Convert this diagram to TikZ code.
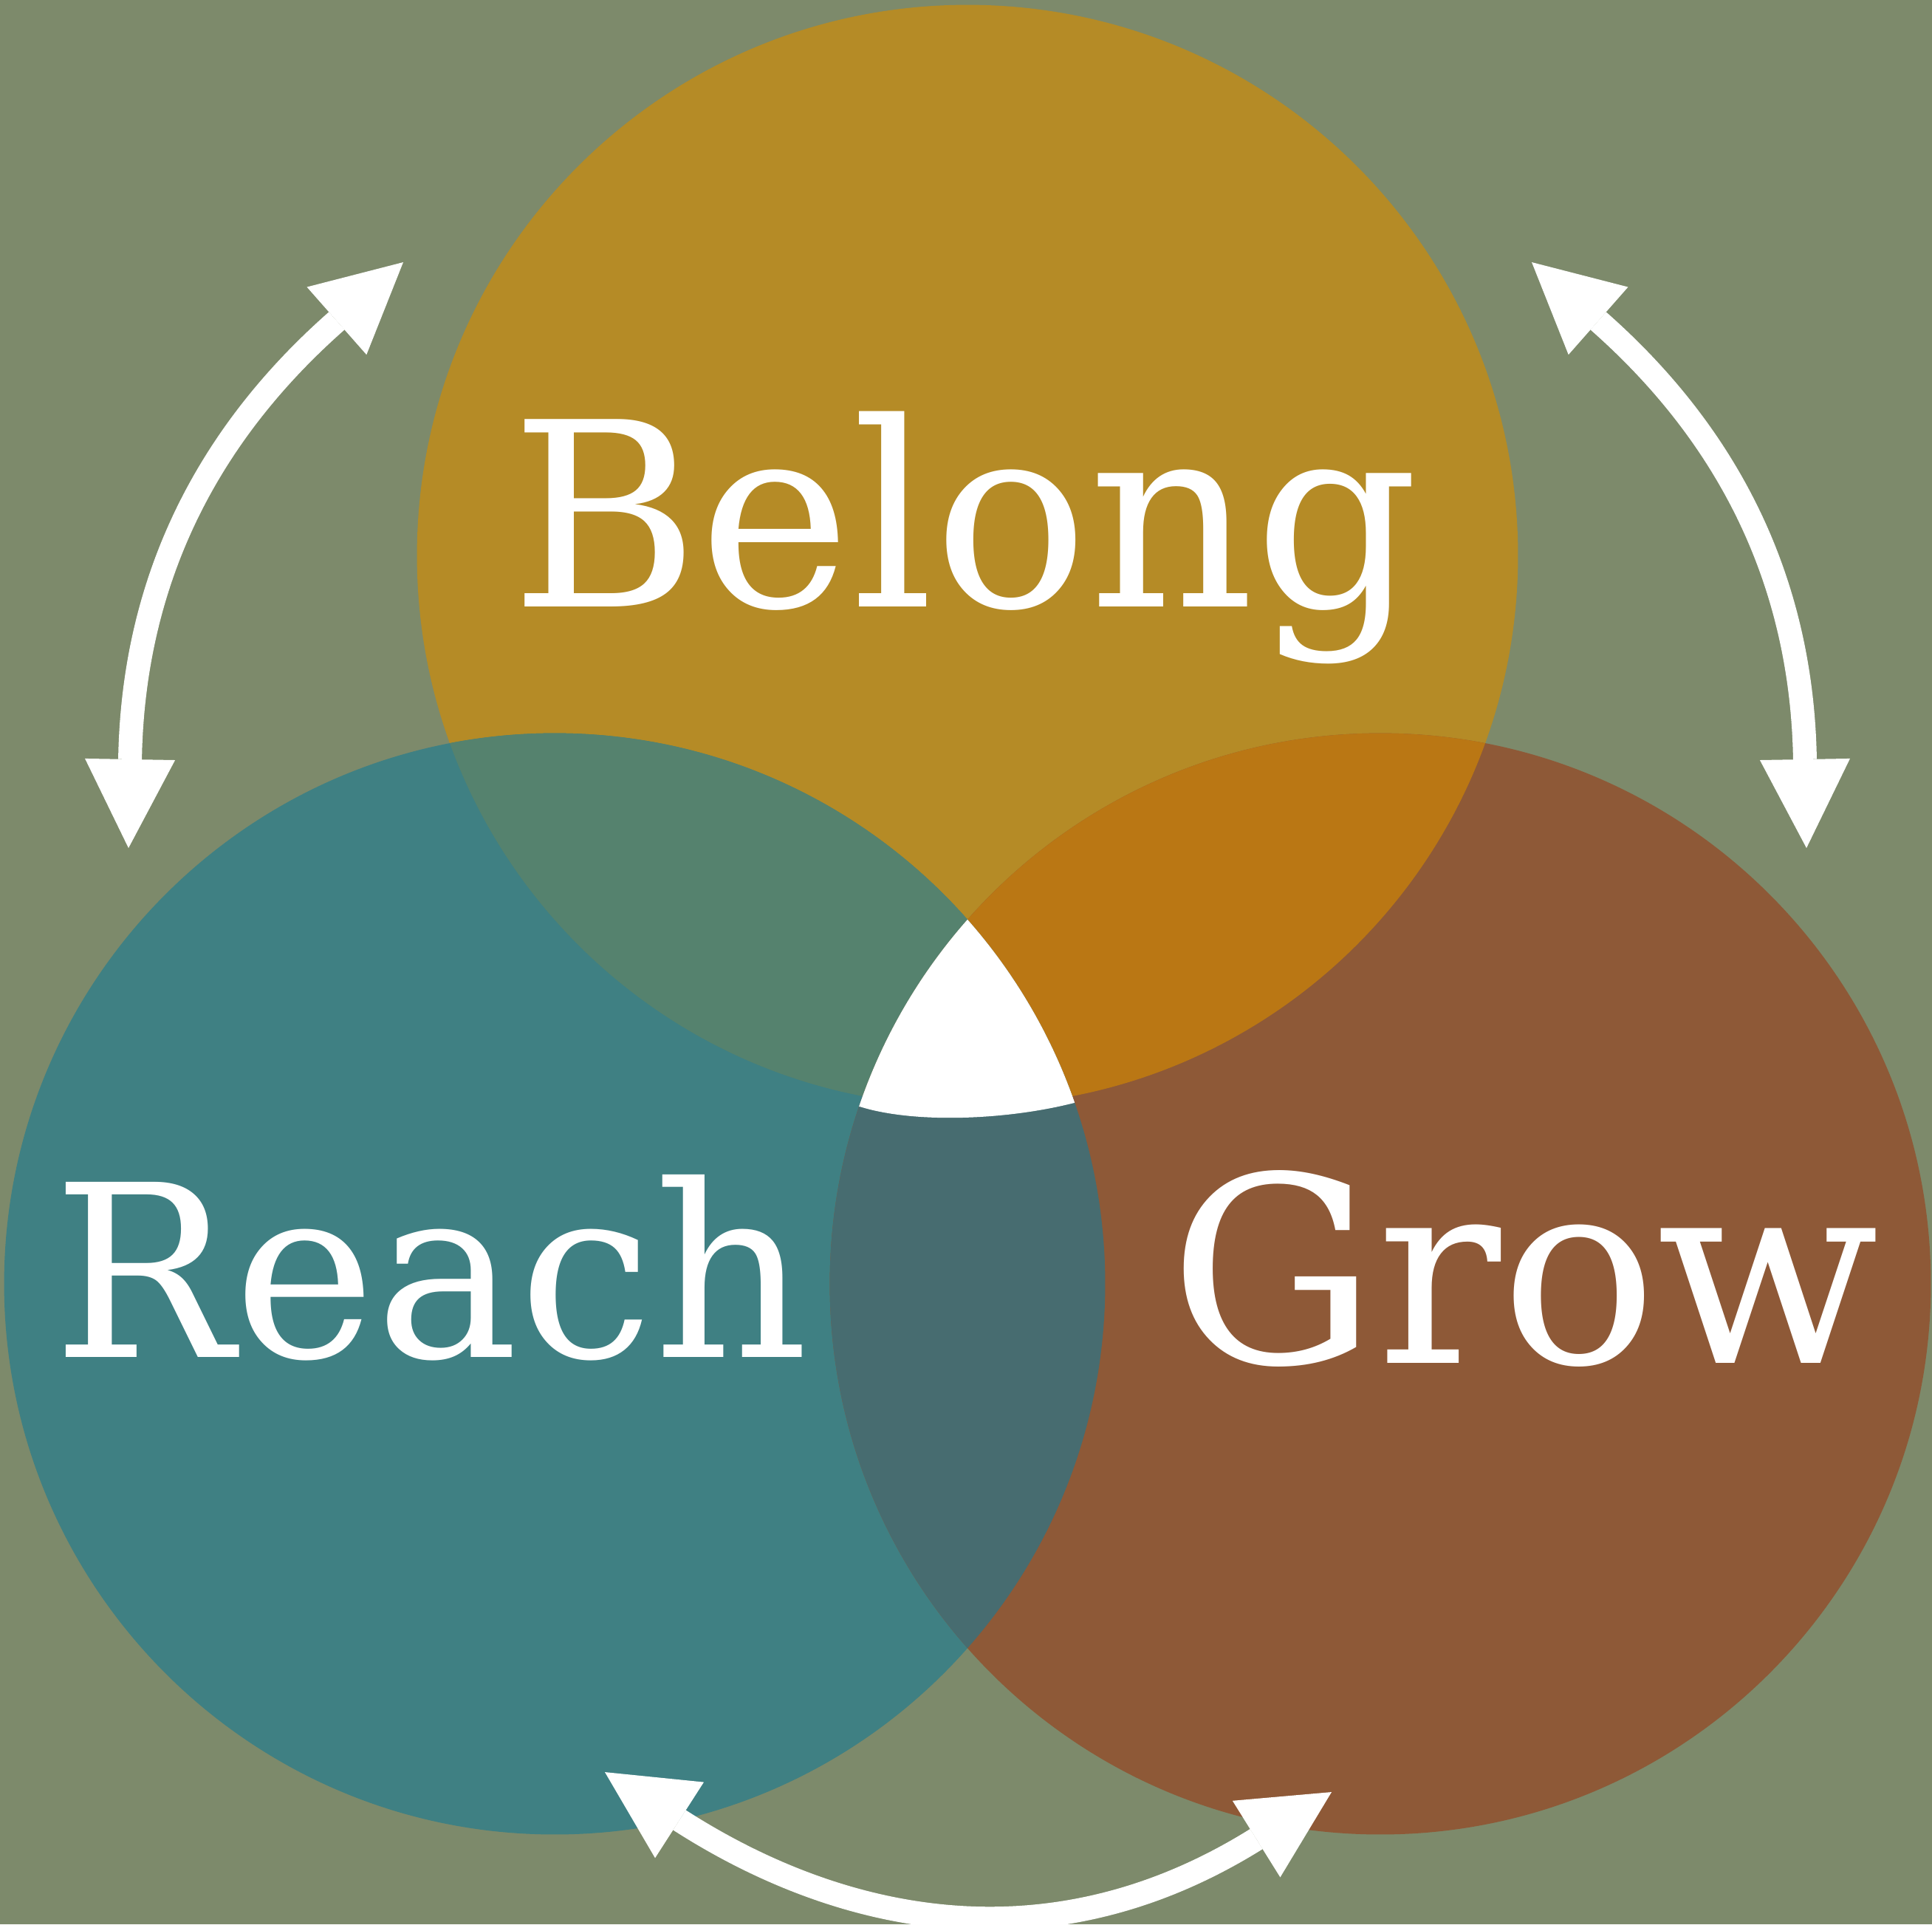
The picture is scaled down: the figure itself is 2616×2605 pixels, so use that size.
\documentclass[tikz,border=0pt]{standalone}
\usepackage{fontspec}
\setmainfont{DejaVu Serif}
\usetikzlibrary{arrows.meta}
\definecolor{backcol}{HTML}{7D8A6B}
\definecolor{belongcol}{HTML}{B58B26}
\definecolor{reachcol}{HTML}{3F8083}
\definecolor{growcol}{HTML}{8E5937}
\definecolor{brcol}{HTML}{55826E}
\definecolor{bgcol}{HTML}{BA7714}
\definecolor{rgcol}{HTML}{476C70}

\begin{document}
\begin{tikzpicture}[x=0.01cm,y=-0.01cm,
    ring/.style={circle,minimum size=14.9cm,inner sep=0pt},
    word/.style={text=white,anchor=base,inner sep=0pt},
    twoway/.style={white,line width=0.32cm,
      {Triangle[length=1.2cm,width=1.22cm,line width=0pt]}-{Triangle[length=1.2cm,width=1.22cm,line width=0pt]}}]

  \useasboundingbox (0,0) rectangle (2616,2605);
  \fill[backcol] (0,0) rectangle (2616,2605);

  \node[ring,fill=belongcol] (belong) at (1310,752) {};
  \node[ring,fill=reachcol] (reach) at (751,1738) {};
  \node[ring,fill=growcol] (grow) at (1869,1738) {};

  \begin{scope}
    \clip (belong.center) circle[radius=7.45cm];
    \fill[brcol] (reach.center) circle[radius=7.45cm];
    \fill[bgcol] (grow.center) circle[radius=7.45cm];
  \end{scope}
  \begin{scope}
    \clip (reach.center) circle[radius=7.45cm];
    \fill[rgcol] (grow.center) circle[radius=7.45cm];
    \clip (grow.center) circle[radius=7.45cm];
    \fill[white] (1100,1000) -- (1100,1498) -- (1164,1498)
      .. controls (1240,1522) and (1370,1516) .. (1462,1491)
      -- (1520,1491) -- (1520,1000) -- cycle;
  \end{scope}

  \node[word,font=\fontsize{99}{110}\selectfont] (belong-text) at (1306,821) {Belong};
  \node[word,font=\fontsize{92.5}{104}\selectfont] (reach-text) at (583,1837) {Reach};
  \node[word,font=\fontsize{100}{110}\selectfont] (grow-text) at (2064,1845) {Grow};

  \coordinate (left-low) at (174,1148);
  \coordinate (left-high) at (546,355);
  \coordinate (right-high) at (2074,355);
  \coordinate (right-low) at (2446,1148);
  \coordinate (foot-left) at (819,2399);
  \coordinate (foot-right) at (1803,2426);

  \draw[twoway] (left-low) .. controls (180,800) and (269,599) .. (left-high);
  \draw[twoway] (right-high) .. controls (2351,599) and (2440,800) .. (right-low);
  \draw[twoway] (foot-left) .. controls (1138,2604) and (1420,2665) .. (foot-right);
\end{tikzpicture}
\end{document}
